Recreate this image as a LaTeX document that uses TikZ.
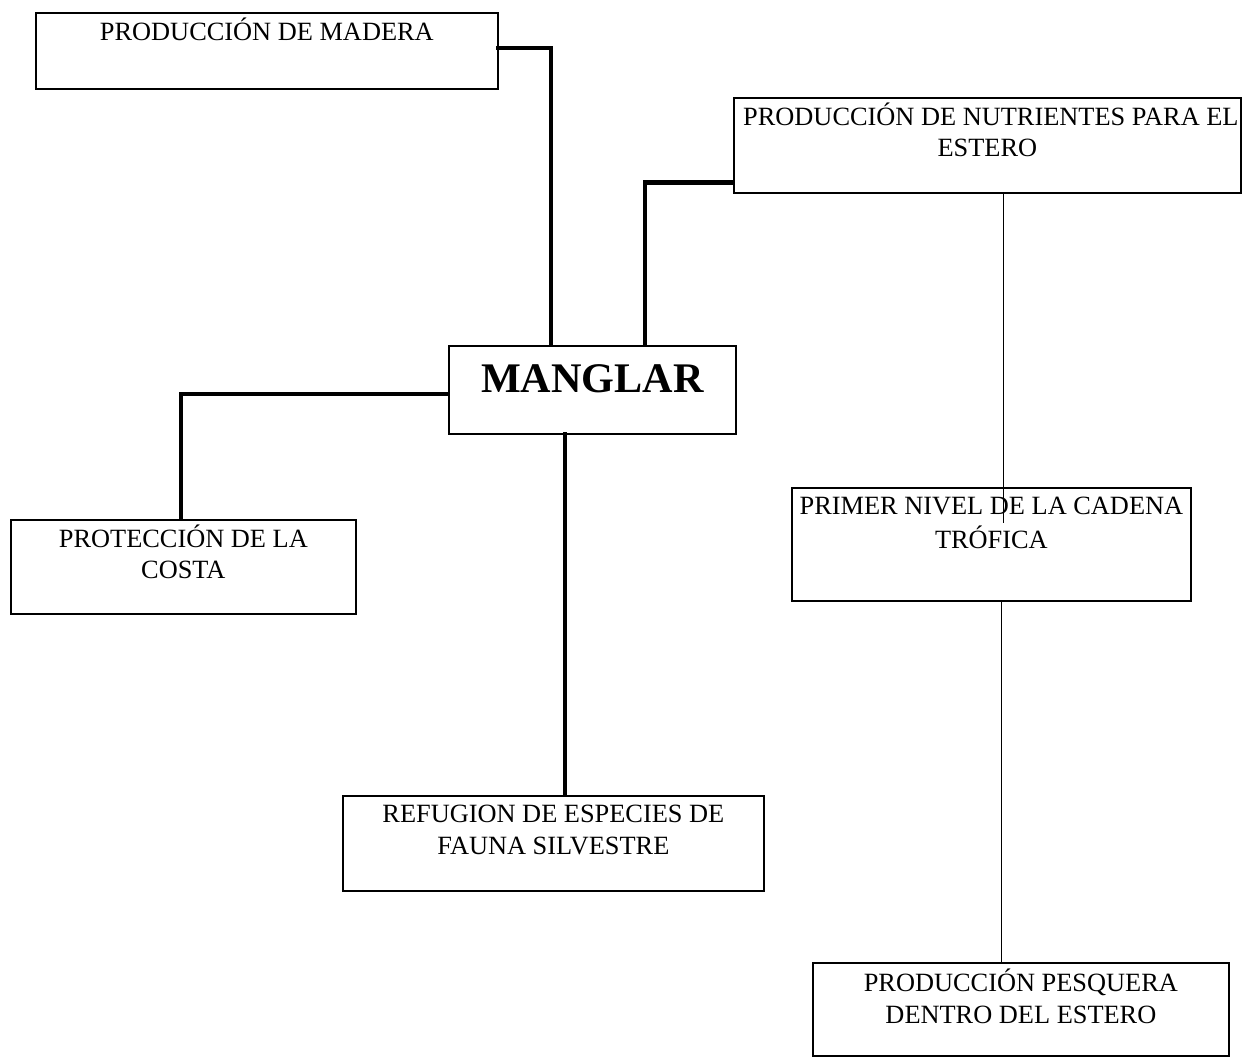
\documentclass[tikz,border=0pt]{standalone}
\usepackage{fontspec}
\setmainfont{Liberation Serif}
\usepackage{tikz}
\usetikzlibrary{
  calc,
  positioning}

% box contents: [top gap]{width px}{height px}{text}
\newcommand{\caja}[4][2.6pt]{%
  \parbox[c][\dimexpr 0.02cm*#3\relax][t]{\dimexpr 0.02cm*#2\relax}{%
    \centering\vspace*{#1}\strut#4}}

\begin{document}
\begin{tikzpicture}[x=0.02cm,y=-0.02cm]
\tikzset{
  caja/.style={
    draw,
    line width=1pt,
    inner sep=0pt,
    anchor=north west,
    font=\fontsize{15}{18}\selectfont,
  },
  grueso/.style={
    line width=2.6pt,
    line cap=rect,
  },
  fino/.style={
    line width=0.5pt,
  },
}
\useasboundingbox (0,0) rectangle (1253,1057);

\node[caja] (madera) at (35,12) {\caja{462}{76}{PRODUCCIÓN DE MADERA}};
\node[caja] (nutrientes) at (733,97)
  {\caja{507}{95}{\hspace*{4pt}PRODUCCIÓN DE NUTRIENTES PARA EL\\ESTERO}};
\node[caja] (manglar) at (448,345)
  {\caja[10.8pt]{287}{88}{\fontsize{24}{28}\selectfont\bfseries MANGLAR}};
\node[caja] (costa) at (10,519) {\caja{345}{94}{PROTECCIÓN DE LA\\COSTA}};
\node[caja] (refugio) at (342,795) {\caja{421}{95}{REFUGION DE ESPECIES DE\\FAUNA SILVESTRE}};
\node[caja] (primer) at (791,487) {\caja{399}{113}{PRIMER NIVEL DE LA CADENA\\TRÓFICA}};
\node[caja] (pesquera) at (812,962) {\caja[3.5pt]{416}{93}{PRODUCCIÓN PESQUERA\\DENTRO DEL ESTERO}};

% thick links from MANGLAR
\draw[grueso] ($(madera.east)+(0,-3)$) -| ($(manglar.north west)+(103,0)$);
\draw[grueso] ($(manglar.north west)+(197,0)$) |- ($(nutrientes.south west)+(0,-11)$);
\draw[grueso] ($(manglar.west)+(0,4)$) -| ($(costa.north west)+(171,0)$);
\draw[grueso] ($(manglar.south west)+(117,0)$) coordinate (m1) -- (m1 |- refugio.north);

% thin chain on the right
\draw[fino] ($(nutrientes.south west)+(270,0)$) coordinate (n1) -- ($(n1 |- primer.north)+(0,36)$);
\draw[fino] ($(primer.south west)+(210,0)$) coordinate (p1) -- (p1 |- pesquera.north);
\end{tikzpicture}
\end{document}
